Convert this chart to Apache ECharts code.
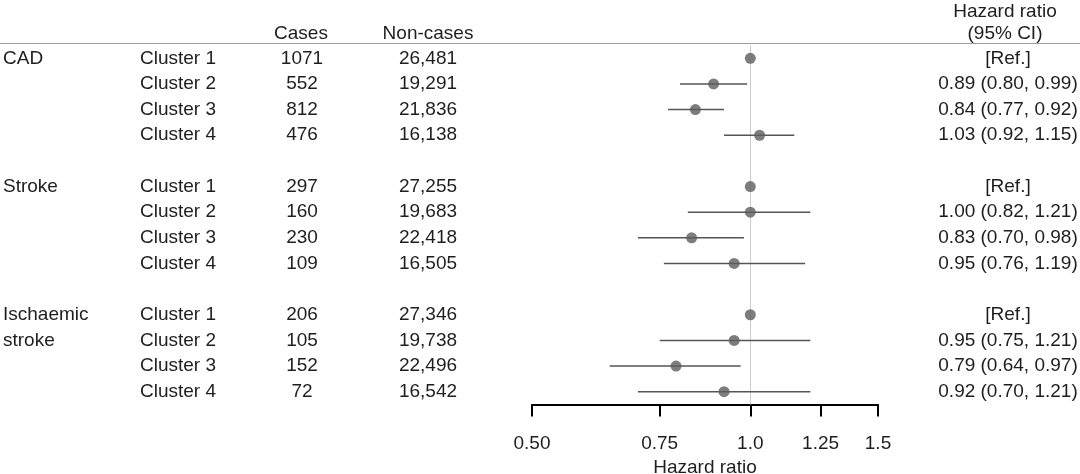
<!DOCTYPE html>
<html>
<head>
<meta charset="utf-8">
<script src="https://cdn.jsdelivr.net/npm/echarts@6/dist/echarts.min.js"></script>
<style>
  html, body { margin: 0; padding: 0; background: #fff; }
  #main { width: 1080px; height: 474px; }
</style>
</head>
<body>
<div id="main"></div>
<script>
// rows of the table, blank rows separate the outcomes
var groups   = ['CAD', '', '', '', '', 'Stroke', '', '', '', '', 'Ischaemic', 'stroke', '', ''];
var clusters = ['Cluster 1', 'Cluster 2', 'Cluster 3', 'Cluster 4', '',
                'Cluster 1', 'Cluster 2', 'Cluster 3', 'Cluster 4', '',
                'Cluster 1', 'Cluster 2', 'Cluster 3', 'Cluster 4'];
var cases    = ['1071', '552', '812', '476', '', '297', '160', '230', '109', '', '206', '105', '152', '72'];
var noncases = ['26,481', '19,291', '21,836', '16,138', '',
                '27,255', '19,683', '22,418', '16,505', '',
                '27,346', '19,738', '22,496', '16,542'];
// hazard ratio with 95% CI, null = empty row, ref rows have no interval
var hr   = [1, 0.89, 0.84, 1.03, null, 1, 1.00, 0.83, 0.95, null, 1, 0.95, 0.79, 0.92];
var ciLo = [null, 0.80, 0.77, 0.92, null, null, 0.82, 0.70, 0.76, null, null, 0.75, 0.64, 0.70];
var ciHi = [null, 0.99, 0.92, 1.15, null, null, 1.21, 0.98, 1.19, null, null, 1.21, 0.97, 1.21];
var isRef = [true, false, false, false, false, true, false, false, false, false, true, false, false, false];

var tickValues = [0.5, 0.75, 1.0, 1.25, 1.5];
var tickLabels = ['0.50', '0.75', '1.0', '1.25', '1.5'];

var FONT = 'Liberation Sans, Arial, sans-serif';
var TXT = '#1e1e1e';
var FS = 19;

var rowIdx = clusters.map(function (c, i) { return String(i); });

function hrText(i) {
  if (hr[i] == null) return '';
  if (isRef[i]) return '[Ref.]';
  return hr[i].toFixed(2) + ' (' + ciLo[i].toFixed(2) + ', ' + ciHi[i].toFixed(2) + ')';
}

var pointData = [];
var ciData = [];
hr.forEach(function (v, i) {
  if (v == null) return;
  pointData.push([Math.log(v), String(i)]);
  if (ciLo[i] != null) ciData.push([Math.log(ciLo[i]), Math.log(ciHi[i]), String(i)]);
});

var chart = echarts.init(document.getElementById('main'));
chart.setOption({
  backgroundColor: '#fff',
  animation: false,
  textStyle: { fontFamily: FONT },
  grid: { left: 532, right: 202, top: 45.5, bottom: 69.5, containLabel: false, outerBoundsMode: 'none' },
  xAxis: {
    type: 'value',
    min: Math.log(0.5),
    max: Math.log(1.5),
    splitLine: { show: false },
    axisLine: { show: true, lineStyle: { color: '#000', width: 2 } },
    axisTick: {
      show: true, length: 12, inside: false,
      customValues: tickValues.map(Math.log),
      lineStyle: { color: '#000', width: 2 }
    },
    axisLabel: {
      customValues: tickValues.map(Math.log),
      margin: 30,
      color: TXT, fontSize: FS, fontFamily: FONT,
      formatter: function (val) {
        for (var k = 0; k < tickValues.length; k++) {
          if (Math.abs(Math.log(tickValues[k]) - val) < 1e-6) return tickLabels[k];
        }
        return '';
      }
    },
    name: 'Hazard ratio',
    nameLocation: 'middle',
    nameGap: 47,
    nameTextStyle: { color: TXT, fontSize: FS, fontFamily: FONT }
  },
  yAxis: [{
    type: 'category',
    data: rowIdx,
    inverse: true,
    axisLine: { show: false },
    axisTick: { show: false },
    splitLine: { show: false },
    axisLabel: {
      align: 'left',
      margin: 529,
      formatter: function (v) {
        var i = +v;
        return '{g|' + groups[i] + '}{c|' + clusters[i] + '}{n|' + cases[i] + '}{m|' + noncases[i] + '}';
      },
      rich: {
        g: { width: 137, align: 'left', color: TXT, fontSize: FS, fontFamily: FONT },
        c: { width: 121, align: 'left', color: TXT, fontSize: FS, fontFamily: FONT },
        n: { width: 82, align: 'center', color: TXT, fontSize: FS, fontFamily: FONT },
        m: { width: 170, align: 'center', color: TXT, fontSize: FS, fontFamily: FONT }
      }
    }
  }, {
    type: 'category',
    data: rowIdx,
    inverse: true,
    position: 'right',
    axisLine: { show: false },
    axisTick: { show: false },
    splitLine: { show: false },
    axisLabel: {
      align: 'center',
      margin: 130,
      color: TXT, fontSize: FS, fontFamily: FONT,
      formatter: function (v) { return hrText(+v); }
    }
  }],
  graphic: [
    { type: 'line', shape: { x1: 0, y1: 43.5, x2: 1080, y2: 43.5 }, style: { stroke: '#a0a0a0', lineWidth: 1.2 } },
    { type: 'text', x: 301, y: 34, style: { text: 'Cases', fill: TXT, font: FS + 'px ' + FONT, textAlign: 'center', textVerticalAlign: 'middle' } },
    { type: 'text', x: 428, y: 34, style: { text: 'Non-cases', fill: TXT, font: FS + 'px ' + FONT, textAlign: 'center', textVerticalAlign: 'middle' } },
    { type: 'text', x: 1005, y: 12, style: { text: 'Hazard ratio', fill: TXT, font: FS + 'px ' + FONT, textAlign: 'center', textVerticalAlign: 'middle' } },
    { type: 'text', x: 1005, y: 34, style: { text: '(95% CI)', fill: TXT, font: FS + 'px ' + FONT, textAlign: 'center', textVerticalAlign: 'middle' } }
  ],
  series: [{
    type: 'custom',
    name: 'ci',
    data: ciData,
    encode: { x: [0, 1], y: 2 },
    renderItem: function (params, api) {
      var a = api.coord([api.value(0), api.value(2)]);
      var b = api.coord([api.value(1), api.value(2)]);
      return {
        type: 'line',
        shape: { x1: a[0], y1: a[1], x2: b[0], y2: b[1] },
        style: { stroke: '#555555', lineWidth: 1.5 }
      };
    },
    z: 2
  }, {
    type: 'scatter',
    name: 'hr',
    data: pointData,
    symbol: 'circle',
    symbolSize: 11,
    itemStyle: { color: '#5c5c5c' },
    z: 3,
    markLine: {
      silent: true,
      symbol: 'none',
      label: { show: false },
      lineStyle: { color: '#cccccc', width: 1, type: 'solid' },
      data: [{ xAxis: 0 }],
      z: 1
    }
  }]
});
</script>
</body>
</html>
